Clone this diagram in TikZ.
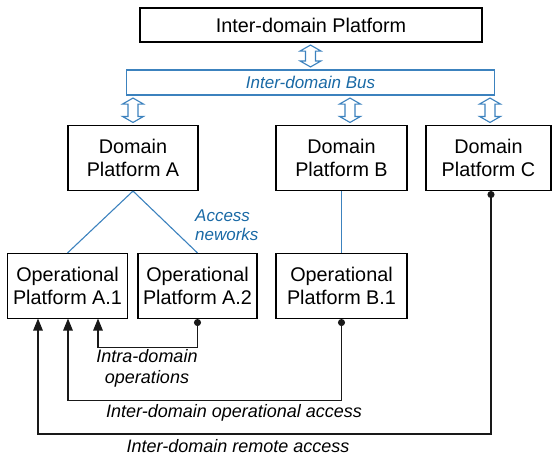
\documentclass[tikz,border=0pt]{standalone}
\usepackage{fontspec}
\setmainfont{Liberation Sans}
\usetikzlibrary{arrows.meta,calc}
\definecolor{busblue}{RGB}{60,130,190}
\definecolor{bustext}{RGB}{25,105,165}
\definecolor{conncol}{RGB}{25,25,25}
\tikzset{
  boxnode/.style={draw=black, line width=1.1pt, inner sep=0pt, align=center,
    font=\fontsize{19.8}{22.5}\selectfont},
  busnode/.style={draw=busblue, line width=1.1pt, inner sep=0pt, align=center,
    font=\fontsize{17}{20}\selectfont\itshape, text=bustext},
  dblarrow/.style={draw=busblue, line width=1.1pt, fill=white, line join=miter},
  bluelink/.style={draw=busblue, line width=1.1pt},
  conn/.style={draw=conncol, line width=1.2pt,
    {Circle[length=7pt]}-{Triangle[length=12pt,width=9.5pt]}},
  labeltext/.style={font=\fontsize{18}{21}\selectfont\itshape, align=center, inner sep=0pt},
  bluelabel/.style={font=\fontsize{17}{19}\selectfont\itshape, text=bustext, align=left, inner sep=0pt}
}
\newcommand\dblarr[2]{\draw[dblarrow] let \p1=#1, \p2=#2 in
  (\x2,\y1-2.5pt) -- (\x2+10.5pt,\y1-8.5pt) -- (\x2+5pt,\y1-8.5pt) -- (\x2+5pt,\y2+8.5pt)
  -- (\x2+10.5pt,\y2+8.5pt) -- (\x2,\y2+2.5pt) -- (\x2-10.5pt,\y2+8.5pt) -- (\x2-5pt,\y2+8.5pt)
  -- (\x2-5pt,\y1-8.5pt) -- (\x2-10.5pt,\y1-8.5pt) -- cycle;}
\begin{document}
\begin{tikzpicture}[x=1pt,y=-1pt]
\useasboundingbox (0,0) rectangle (552,458);
% boxes
\node[boxnode, minimum width=342pt, minimum height=34pt] (plat) at (311,25) {Inter-domain Platform};
\node[busnode, minimum width=368pt, minimum height=25pt] (bus) at (310.5,82.5) {Inter-domain Bus};
\node[boxnode, minimum width=130pt, minimum height=65pt] (domA) at (133,158) {Domain\\Platform A};
\node[boxnode, minimum width=131pt, minimum height=65pt] (domB) at (341.5,158) {Domain\\Platform B};
\node[boxnode, minimum width=125pt, minimum height=65pt] (domC) at (488.5,158) {Domain\\Platform C};
\node[boxnode, minimum width=119.5pt, minimum height=65pt] (opA1) at (67.5,286) {Operational\\Platform A.1};
\node[boxnode, minimum width=119pt, minimum height=65pt] (opA2) at (197.5,286) {Operational\\Platform A.2};
\node[boxnode, minimum width=131pt, minimum height=65pt] (opB1) at (341.5,286) {Operational\\Platform B.1};
% double arrows
\dblarr{(plat.south)}{(bus.north)}
\dblarr{(bus.south)}{(domA.north)}
\dblarr{(bus.south)}{([xshift=8.5pt]domB.north)}
\dblarr{(bus.south)}{([xshift=1.5pt]domC.north)}
% access networks
\draw[bluelink] (domA.south) -- (opA1.north);
\draw[bluelink] (domA.south) -- (opA2.north);
\draw[bluelink] (domB.south) -- (opB1.north);
\node[bluelabel, anchor=west] (accnet) at (195,225) {Access\\neworks};
% operation connectors
\coordinate (t1) at (38,318.5);
\coordinate (t2) at (68,318.5);
\coordinate (t3) at (98,318.5);
\draw[conn] (opA2.south) -- ++(0,28.5) -| (t3);
\draw[conn] (opB1.south) -- ++(0,81.5) -| (t2);
\draw[conn] ([xshift=2.5pt]domC.south) -- ++(0,243) -| (t1);
% labels
\node[labeltext] (lintra) at (147,368) {Intra-domain\\operations};
\node[labeltext] (lop) at (234,413) {Inter-domain operational access};
\node[labeltext] (lrem) at (238,446) {Inter-domain remote access};
\end{tikzpicture}
\end{document}
